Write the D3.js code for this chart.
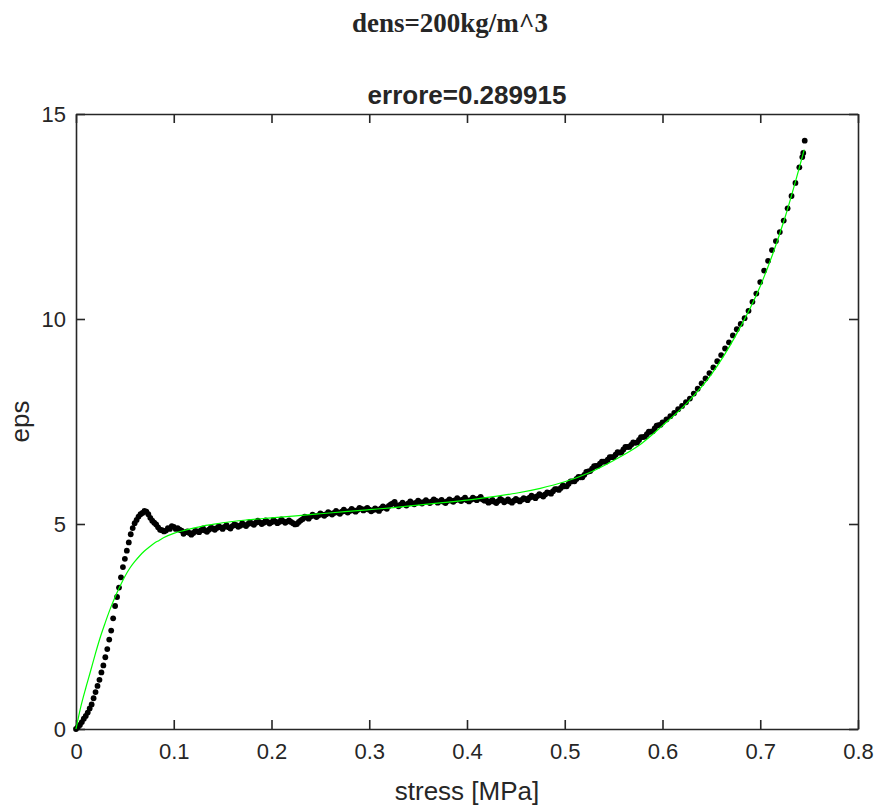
<!DOCTYPE html>
<html>
<head>
<meta charset="utf-8">
<script src="https://cdn.jsdelivr.net/npm/d3@7"></script>
<style>
  body { margin: 0; background: #fff; }
  svg { display: block; }
  text { font-family: "Liberation Sans", Arial, sans-serif; fill: #262626; }
</style>
</head>
<body>
<svg></svg>
<script>
var viewWidth = 878;
var viewHeight = 807;

// measured points: [stress, eps]
var measured = [
  [0, 0], [0.002, 0.05], [0.004, 0.1], [0.006, 0.17], [0.008, 0.25], [0.01, 0.32],
  [0.012, 0.4], [0.014, 0.5], [0.016, 0.6], [0.018, 0.75], [0.02, 0.9], [0.022, 1.05],
  [0.024, 1.2], [0.026, 1.38], [0.028, 1.55], [0.03, 1.75], [0.032, 1.95], [0.034, 2.18],
  [0.036, 2.4], [0.038, 2.7], [0.04, 3.0], [0.042, 3.22], [0.044, 3.45], [0.046, 3.7],
  [0.048, 3.95], [0.05, 4.15], [0.052, 4.35], [0.054, 4.55], [0.056, 4.75], [0.058, 4.9],
  [0.06, 5.02], [0.062, 5.1], [0.064, 5.18], [0.066, 5.24], [0.068, 5.27], [0.07, 5.32],
  [0.072, 5.3], [0.074, 5.24], [0.076, 5.15], [0.078, 5.08], [0.08, 5.03], [0.082, 4.99],
  [0.084, 4.92], [0.086, 4.86], [0.088, 4.85], [0.09, 4.82], [0.092, 4.84], [0.094, 4.9],
  [0.096, 4.88], [0.098, 4.95], [0.1, 4.93], [0.102, 4.88], [0.104, 4.9], [0.106, 4.86],
  [0.108, 4.84], [0.11, 4.76], [0.112, 4.8], [0.114, 4.82], [0.116, 4.78], [0.118, 4.74],
  [0.12, 4.78], [0.122, 4.83], [0.124, 4.82], [0.126, 4.8], [0.128, 4.85], [0.13, 4.89],
  [0.132, 4.84], [0.134, 4.81], [0.136, 4.86], [0.138, 4.91], [0.14, 4.89], [0.142, 4.86],
  [0.144, 4.9], [0.146, 4.95], [0.148, 4.92], [0.15, 4.88], [0.152, 4.93], [0.154, 4.97],
  [0.156, 4.92], [0.158, 4.89], [0.16, 4.95], [0.162, 4.99], [0.164, 4.97], [0.166, 4.93],
  [0.168, 4.96], [0.17, 5.02], [0.172, 4.98], [0.174, 4.95], [0.176, 5.0], [0.178, 5.05],
  [0.18, 5.01], [0.182, 4.98], [0.184, 5.03], [0.186, 5.08], [0.188, 5.04], [0.19, 5.0],
  [0.192, 5.03], [0.194, 5.09], [0.196, 5.05], [0.198, 5.01], [0.2, 5.04], [0.202, 5.1],
  [0.204, 5.06], [0.206, 5.02], [0.208, 5.05], [0.21, 5.11], [0.212, 5.07], [0.214, 5.03],
  [0.216, 5.06], [0.218, 5.09], [0.22, 5.05], [0.222, 5.02], [0.224, 4.99], [0.226, 5.0],
  [0.228, 5.05], [0.23, 5.09], [0.232, 5.12], [0.234, 5.18], [0.236, 5.16], [0.238, 5.13],
  [0.24, 5.18], [0.242, 5.23], [0.244, 5.2], [0.246, 5.17], [0.248, 5.21], [0.25, 5.26],
  [0.252, 5.23], [0.254, 5.2], [0.256, 5.24], [0.258, 5.29], [0.26, 5.26], [0.262, 5.23],
  [0.264, 5.27], [0.266, 5.32], [0.268, 5.28], [0.27, 5.25], [0.272, 5.3], [0.274, 5.35],
  [0.276, 5.31], [0.278, 5.28], [0.28, 5.32], [0.282, 5.37], [0.284, 5.33], [0.286, 5.3],
  [0.288, 5.34], [0.29, 5.39], [0.292, 5.37], [0.294, 5.33], [0.296, 5.36], [0.298, 5.39],
  [0.3, 5.35], [0.302, 5.31], [0.304, 5.34], [0.306, 5.38], [0.308, 5.35], [0.31, 5.32],
  [0.312, 5.38], [0.314, 5.43], [0.316, 5.4], [0.318, 5.37], [0.32, 5.44], [0.322, 5.48],
  [0.324, 5.5], [0.326, 5.54], [0.328, 5.46], [0.33, 5.43], [0.332, 5.47], [0.334, 5.52],
  [0.336, 5.48], [0.338, 5.45], [0.34, 5.5], [0.342, 5.55], [0.344, 5.51], [0.346, 5.48],
  [0.348, 5.52], [0.35, 5.57], [0.352, 5.53], [0.354, 5.5], [0.356, 5.54], [0.358, 5.58],
  [0.36, 5.54], [0.362, 5.51], [0.364, 5.55], [0.366, 5.6], [0.368, 5.57], [0.37, 5.52],
  [0.372, 5.55], [0.374, 5.59], [0.376, 5.54], [0.378, 5.51], [0.38, 5.56], [0.382, 5.6],
  [0.384, 5.57], [0.386, 5.54], [0.388, 5.58], [0.39, 5.63], [0.392, 5.59], [0.394, 5.56],
  [0.396, 5.6], [0.398, 5.64], [0.4, 5.58], [0.402, 5.55], [0.404, 5.59], [0.406, 5.64],
  [0.408, 5.61], [0.41, 5.58], [0.412, 5.62], [0.414, 5.66], [0.416, 5.6], [0.418, 5.57],
  [0.42, 5.57], [0.422, 5.52], [0.424, 5.55], [0.426, 5.59], [0.428, 5.54], [0.43, 5.51],
  [0.432, 5.56], [0.434, 5.61], [0.436, 5.58], [0.438, 5.53], [0.44, 5.56], [0.442, 5.6],
  [0.444, 5.55], [0.446, 5.52], [0.448, 5.57], [0.45, 5.61], [0.452, 5.58], [0.454, 5.55],
  [0.456, 5.59], [0.458, 5.63], [0.46, 5.61], [0.462, 5.58], [0.464, 5.64], [0.466, 5.69],
  [0.468, 5.66], [0.47, 5.63], [0.472, 5.68], [0.474, 5.73], [0.476, 5.7], [0.478, 5.67],
  [0.48, 5.72], [0.482, 5.77], [0.484, 5.76], [0.486, 5.74], [0.488, 5.8], [0.49, 5.85],
  [0.492, 5.85], [0.494, 5.83], [0.496, 5.88], [0.498, 5.94], [0.5, 5.92], [0.502, 5.92],
  [0.504, 5.98], [0.506, 6.04], [0.508, 6.04], [0.51, 6.04], [0.512, 6.1], [0.514, 6.15],
  [0.516, 6.14], [0.518, 6.14], [0.52, 6.2], [0.522, 6.27], [0.524, 6.28], [0.526, 6.29],
  [0.528, 6.35], [0.53, 6.41], [0.532, 6.42], [0.534, 6.42], [0.536, 6.47], [0.538, 6.52],
  [0.54, 6.52], [0.542, 6.52], [0.544, 6.57], [0.546, 6.63], [0.548, 6.63], [0.55, 6.63],
  [0.552, 6.69], [0.554, 6.75], [0.556, 6.74], [0.558, 6.75], [0.56, 6.82], [0.562, 6.88],
  [0.564, 6.88], [0.566, 6.88], [0.568, 6.93], [0.57, 6.99], [0.572, 6.98], [0.574, 6.99],
  [0.576, 7.05], [0.578, 7.12], [0.58, 7.12], [0.582, 7.13], [0.584, 7.19], [0.586, 7.25],
  [0.588, 7.25], [0.59, 7.26], [0.592, 7.33], [0.594, 7.4], [0.596, 7.41], [0.598, 7.42],
  [0.6, 7.48], [0.604, 7.55], [0.608, 7.63], [0.612, 7.71], [0.616, 7.8], [0.62, 7.88],
  [0.624, 7.97], [0.628, 8.06], [0.632, 8.18], [0.636, 8.3], [0.64, 8.43], [0.644, 8.55],
  [0.648, 8.68], [0.652, 8.82], [0.656, 8.97], [0.66, 9.12], [0.664, 9.28], [0.668, 9.43],
  [0.672, 9.6], [0.676, 9.75], [0.68, 9.88], [0.684, 10.02], [0.688, 10.2], [0.692, 10.42],
  [0.696, 10.62], [0.7, 10.9], [0.704, 11.18], [0.708, 11.42], [0.712, 11.68], [0.716, 11.9],
  [0.72, 12.12], [0.724, 12.4], [0.728, 12.7], [0.732, 13.0], [0.736, 13.32], [0.74, 13.7],
  [0.743, 13.95], [0.744, 14.05], [0.7455, 14.35]
];

// fitted curve: [stress, eps]
var fitted = [
  [0, 0], [0.005, 0.55], [0.01, 1.0], [0.015, 1.42], [0.02, 1.85], [0.025, 2.25],
  [0.03, 2.6], [0.035, 2.93], [0.04, 3.22], [0.045, 3.48], [0.05, 3.72], [0.055, 3.92],
  [0.06, 4.08], [0.065, 4.22], [0.07, 4.34], [0.075, 4.44], [0.08, 4.53], [0.085, 4.6],
  [0.09, 4.67], [0.1, 4.77], [0.11, 4.84], [0.12, 4.9], [0.13, 4.95], [0.14, 4.99],
  [0.15, 5.03], [0.175, 5.1], [0.2, 5.15], [0.225, 5.2], [0.25, 5.25], [0.275, 5.3],
  [0.3, 5.35], [0.325, 5.4], [0.35, 5.46], [0.375, 5.52], [0.4, 5.58], [0.425, 5.66],
  [0.45, 5.75], [0.475, 5.87], [0.5, 6.03], [0.525, 6.25], [0.55, 6.55], [0.575, 6.9],
  [0.6, 7.4], [0.625, 7.95], [0.65, 8.65], [0.675, 9.6], [0.7, 10.8], [0.725, 12.45],
  [0.745, 14.13]
];

var xTicks = [0, 0.1, 0.2, 0.3, 0.4, 0.5, 0.6, 0.7, 0.8];
var yTicks = [0, 5, 10, 15];

var suptitle = "dens=200kg/m^3";
var title = "errore=0.289915";
var xLabel = "stress [MPa]";
var yLabel = "eps";

var margin = {top: 114, right: 20, bottom: 78, left: 76};
var width = viewWidth - margin.left - margin.right;
var height = viewHeight - margin.top - margin.bottom;

var svg = d3.select("svg")
    .attr("width", viewWidth)
    .attr("height", viewHeight);

var g = svg.append("g")
    .attr("transform", "translate(" + margin.left + "," + margin.top + ")");

var xScale = d3.scaleLinear().domain([0, 0.8]).range([0, width]);
var yScale = d3.scaleLinear().domain([0, 15]).range([height, 0]);

var axisColor = "#262626";
var tickLen = 9;

function styleAxis(sel) {
  sel.select(".domain").attr("stroke", axisColor).attr("stroke-width", 1.6);
  sel.selectAll(".tick line").attr("stroke", axisColor).attr("stroke-width", 1.6);
  sel.selectAll(".tick text").attr("fill", axisColor)
    .style("font-size", "22px").style("font-family", "'Liberation Sans', Arial, sans-serif");
}

// bottom / left with labels, ticks pointing inward
g.append("g")
  .attr("transform", "translate(0," + height + ")")
  .call(d3.axisBottom(xScale).tickValues(xTicks).tickFormat(d3.format("")).tickSizeInner(-tickLen).tickSizeOuter(0).tickPadding(14))
  .call(styleAxis);
g.append("g")
  .call(d3.axisLeft(yScale).tickValues(yTicks).tickFormat(d3.format("")).tickSizeInner(-tickLen).tickSizeOuter(0).tickPadding(10))
  .call(styleAxis);
// mirrored top / right
g.append("g")
  .call(d3.axisTop(xScale).tickValues(xTicks).tickFormat("").tickSizeInner(-tickLen).tickSizeOuter(0))
  .call(styleAxis);
g.append("g")
  .attr("transform", "translate(" + width + ",0)")
  .call(d3.axisRight(yScale).tickValues(yTicks).tickFormat("").tickSizeInner(-tickLen).tickSizeOuter(0))
  .call(styleAxis);

// data
g.append("g").selectAll("circle")
  .data(measured)
  .enter()
  .append("circle")
  .attr("cx", function(d){ return xScale(d[0]); })
  .attr("cy", function(d){ return yScale(d[1]); })
  .attr("r", 2.9)
  .attr("fill", "#000");

var line = d3.line()
  .x(function(d){ return xScale(d[0]); })
  .y(function(d){ return yScale(d[1]); })
  .curve(d3.curveMonotoneX);

g.append("path")
  .datum(fitted)
  .attr("d", line)
  .attr("fill", "none")
  .attr("stroke", "#00ff00")
  .attr("stroke-width", 1.2);

// texts
svg.append("text")
  .attr("x", 450).attr("y", 32)
  .attr("text-anchor", "middle")
  .style("font-family", "'Liberation Serif', 'Times New Roman', serif")
  .style("font-weight", "bold")
  .style("font-size", "27px")
  .attr("fill", "#000")
  .text(suptitle);

svg.append("text")
  .attr("x", margin.left + width / 2).attr("y", 104)
  .attr("text-anchor", "middle")
  .style("font-weight", "bold")
  .style("font-size", "26px")
  .attr("fill", "#000")
  .text(title);

svg.append("text")
  .attr("x", margin.left + width / 2).attr("y", 800)
  .attr("text-anchor", "middle")
  .style("font-size", "26px")
  .text(xLabel);

svg.append("text")
  .attr("transform", "translate(29," + (margin.top + height / 2) + ") rotate(-90)")
  .attr("text-anchor", "middle")
  .style("font-size", "26px")
  .text(yLabel);
</script>
</body>
</html>
